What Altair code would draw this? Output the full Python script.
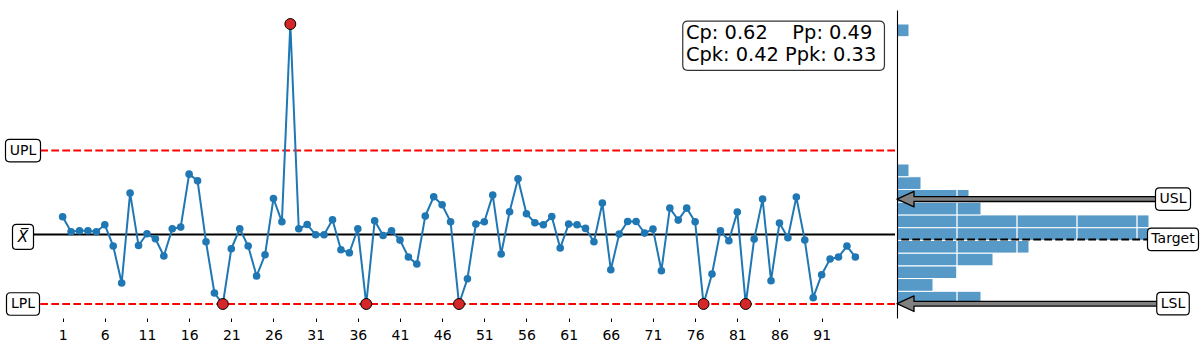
import altair as alt
import numpy as np
import pandas as pd

# ---------------- data ----------------
values = [10.13, 8.63, 8.73, 8.73, 8.63, 9.33, 7.20, 3.50, 12.50, 7.26,
          8.43, 7.93, 6.20, 8.93, 9.10, 14.40, 13.73, 7.63, 2.50, 1.40,
          6.93, 8.93, 7.20, 4.20, 6.33, 11.96, 9.63, 29.43, 8.93, 9.36,
          8.33, 8.33, 9.83, 6.83, 6.53, 8.93, 1.40, 9.73, 8.26, 8.73,
          7.80, 6.10, 5.40, 10.20, 12.13, 11.33, 9.63, 1.40, 3.93, 9.40,
          9.63, 12.30, 6.40, 10.63, 13.93, 10.43, 9.53, 9.33, 10.16, 7.00,
          9.40, 9.33, 8.97, 7.63, 11.50, 4.83, 8.40, 9.66, 9.66, 8.50,
          8.90, 4.73, 11.00, 9.80, 11.00, 9.63, 1.40, 4.40, 8.73, 7.73,
          10.60, 1.40, 7.90, 11.90, 3.73, 9.50, 8.03, 12.10, 7.80, 2.03,
          4.33, 5.90, 6.10, 7.20, 6.10]

UPL = 16.76
MEAN = 8.36
LPL = 1.40
USL = 11.90
TARGET = 7.86
LSL = 1.43

left_labels = ["UPL", "LPL"]
left_values = [UPL, LPL]
right_labels = ["USL", "Target", "LSL"]
right_values = [USL, TARGET, LSL]
stats_line1 = "Cp: 0.62\u00a0\u00a0\u00a0\u00a0Pp: 0.49"
stats_line2 = "Cpk: 0.42 Ppk: 0.33"
x_ticks = list(range(1, 96, 5))
n_bins = 22
grid_counts = [5, 10, 15, 20]

FONT = "DejaVu Sans"
BLUE = "#1f77b4"

# ---------------- derived tables ----------------
n = len(values)
df = pd.DataFrame({"idx": np.arange(1, n + 1), "value": values})
vmin, vmax = min(values), max(values)
pad = 0.05 * (vmax - vmin)
y_dom = [vmin - pad, vmax + pad]
x_dom = [1 - 0.05 * (n - 1), n + 0.05 * (n - 1)]

counts, edges = np.histogram(values, bins=n_bins)
hdf = pd.DataFrame({"lo": edges[:-1], "hi": edges[1:], "count": counts, "zero": 0})
hdf = hdf[hdf["count"] > 0]
h_max = int(counts.max())


def rrect(w, h, r=4.0, dy=0.0):
    x0, x1 = -w / 2, w / 2
    y0, y1 = -h / 2 + dy, h / 2 + dy
    return (f"M{x0 + r},{y0} L{x1 - r},{y0} Q{x1},{y0} {x1},{y0 + r} "
            f"L{x1},{y1 - r} Q{x1},{y1} {x1 - r},{y1} L{x0 + r},{y1} "
            f"Q{x0},{y1} {x0},{y1 - r} L{x0},{y0 + r} Q{x0},{y0} {x0 + r},{y0} Z")


def arrow(length, head_len=17.0, head_half=7.8, shaft_half=2.4):
    return (f"M0,0 L{head_len},{-head_half} L{head_len},{-shaft_half} "
            f"L{length},{-shaft_half} L{length},{shaft_half} L{head_len},{shaft_half} "
            f"L{head_len},{head_half} Z")


W1, W2, H = 872, 276, 308

yscale = alt.Scale(domain=y_dom, nice=False, zero=False)
xscale = alt.Scale(domain=x_dom, nice=False, zero=False)
hxscale = alt.Scale(domain=[0, h_max], nice=False, zero=True)

x_axis = alt.Axis(values=x_ticks, format="d", domain=False, grid=False, ticks=True,
                  tickSize=3.5, tickColor="black", tickWidth=1, labelFontSize=14,
                  labelFont=FONT, labelColor="black", labelPadding=7, title=None,
                  labelFlush=False, labelOverlap=False)
no_view = alt.ViewBackground(stroke=None, strokeWidth=0)

# ---------------- control chart ----------------
lim_df = pd.DataFrame({"y": [UPL, LPL]})
limits = alt.Chart(lim_df).mark_rule(color="red", strokeDash=[7.7, 3.3], strokeWidth=2).encode(
    y=alt.Y("y:Q", scale=yscale, axis=None))
mean_rule = alt.Chart(pd.DataFrame({"y": [MEAN]})).mark_rule(color="black", strokeWidth=2).encode(
    y=alt.Y("y:Q", scale=yscale, axis=None))

xe = alt.X("idx:Q", scale=xscale, axis=x_axis)
ye = alt.Y("value:Q", scale=yscale, axis=None)
line = alt.Chart(df).mark_line(color=BLUE, strokeWidth=2).encode(x=xe, y=ye)
pts = alt.Chart(df).mark_circle(size=58, color=BLUE, opacity=1).encode(x=xe, y=ye)
red = alt.Chart(df).transform_filter(
    f"datum.value > {UPL} || datum.value <= {LPL}"
).mark_circle(size=120, color="#d62728", stroke="black", strokeWidth=1, opacity=1).encode(x=xe, y=ye)

ll_df = pd.DataFrame({"label": left_labels, "y": left_values,
                      "path": [rrect(35, 22.5), rrect(33, 22.5)]})
ll_box = alt.Chart(ll_df).mark_point(filled=True, fill="white", stroke="black", strokeWidth=1.2,
                                     size=4, opacity=1).encode(
    x=alt.datum(x_dom[0], scale=xscale), y=alt.Y("y:Q", scale=yscale, axis=None),
    shape=alt.Shape("path:N", scale=None))
ll_txt = alt.Chart(ll_df).mark_text(font=FONT, fontSize=14, color="black", baseline="middle",
                                    align="center").encode(
    x=alt.datum(x_dom[0], scale=xscale), y=alt.Y("y:Q", scale=yscale, axis=None), text="label:N")

xb_df = pd.DataFrame({"label": ["X\u0305"], "y": [MEAN], "path": [rrect(21, 25, dy=2.5)]})
xb_box = alt.Chart(xb_df).mark_point(filled=True, fill="white", stroke="black", strokeWidth=1.2,
                                     size=4, opacity=1).encode(
    x=alt.datum(x_dom[0], scale=xscale), y=alt.Y("y:Q", scale=yscale, axis=None),
    shape=alt.Shape("path:N", scale=None))
xb_txt = alt.Chart(xb_df).mark_text(font=FONT, fontSize=15, fontStyle="italic", color="black",
                                    baseline="middle", align="center", dy=3).encode(
    x=alt.datum(x_dom[0], scale=xscale), y=alt.Y("y:Q", scale=yscale, axis=None), text="label:N")

st_box_df = pd.DataFrame({"path": [rrect(201.7, 49.3, r=5)]})
st_box = alt.Chart(st_box_df).mark_point(filled=True, fill="white", stroke="#333333", strokeWidth=1.2,
                                         size=4, opacity=1).encode(
    x=alt.value(760.6), y=alt.value(35.7), shape=alt.Shape("path:N", scale=None))
st_txt1 = alt.Chart(pd.DataFrame({"t": [stats_line1]})).mark_text(
    font=FONT, fontSize=19.4, color="black", align="left", baseline="alphabetic").encode(
    x=alt.value(663), y=alt.value(29.3), text="t:N")
st_txt2 = alt.Chart(pd.DataFrame({"t": [stats_line2]})).mark_text(
    font=FONT, fontSize=19.4, color="black", align="left", baseline="alphabetic").encode(
    x=alt.value(663), y=alt.value(51.0), text="t:N")

control = alt.layer(limits, mean_rule, line, pts, red, ll_box, ll_txt, xb_box, xb_txt,
                    st_box, st_txt1, st_txt2).properties(width=W1, height=H, view=no_view)

# ---------------- histogram ----------------
h_axis = alt.Axis(domain=True, domainColor="black", domainWidth=1.1, ticks=False, labels=False,
                  grid=False, title=None, zindex=1)
bars = alt.Chart(hdf).mark_rect(fill="#5799c7", stroke="white", strokeWidth=1).encode(
    y=alt.Y("lo:Q", scale=yscale, axis=h_axis), y2="hi:Q",
    x=alt.X("count:Q", scale=hxscale, axis=None), x2="zero:Q")
grid = alt.Chart(pd.DataFrame({"c": grid_counts})).mark_rule(color="white", strokeWidth=1.3).encode(
    x=alt.X("c:Q", scale=hxscale, axis=None))
target = alt.Chart(pd.DataFrame({"y": [TARGET]})).mark_rule(
    color="black", strokeDash=[7.7, 3.3], strokeWidth=2).encode(
    y=alt.Y("y:Q", scale=yscale, axis=h_axis))
arr_df = pd.DataFrame({"y": [USL, LSL], "path": [arrow(W2), arrow(W2)]})
arrows = alt.Chart(arr_df).mark_point(filled=True, fill="#808080", stroke="black", strokeWidth=1.3,
                                      strokeJoin="round", size=4, opacity=1).encode(
    x=alt.datum(0, scale=hxscale), y=alt.Y("y:Q", scale=yscale, axis=h_axis),
    shape=alt.Shape("path:N", scale=None))
rl_df = pd.DataFrame({"label": right_labels, "y": right_values,
                      "path": [rrect(35, 22.5), rrect(51, 22.5), rrect(32.5, 22.5)]})
rl_box = alt.Chart(rl_df).mark_point(filled=True, fill="white", stroke="black", strokeWidth=1.2,
                                     size=4, opacity=1).encode(
    x=alt.datum(h_max, scale=hxscale), y=alt.Y("y:Q", scale=yscale, axis=h_axis),
    shape=alt.Shape("path:N", scale=None))
rl_txt = alt.Chart(rl_df).mark_text(font=FONT, fontSize=14, color="black", baseline="middle",
                                    align="center").encode(
    x=alt.datum(h_max, scale=hxscale), y=alt.Y("y:Q", scale=yscale, axis=h_axis), text="label:N")

hist = alt.layer(bars, grid, target, arrows, rl_box, rl_txt).properties(
    width=W2, height=H, view=no_view)

chart = alt.hconcat(control, hist, spacing=0).properties(
    padding={"left": 3, "top": 9, "right": 0, "bottom": 0}
).configure_view(stroke=None, strokeWidth=0).configure(font=FONT)

chart.save("out.html", embed_options={"renderer": "svg", "actions": False})
